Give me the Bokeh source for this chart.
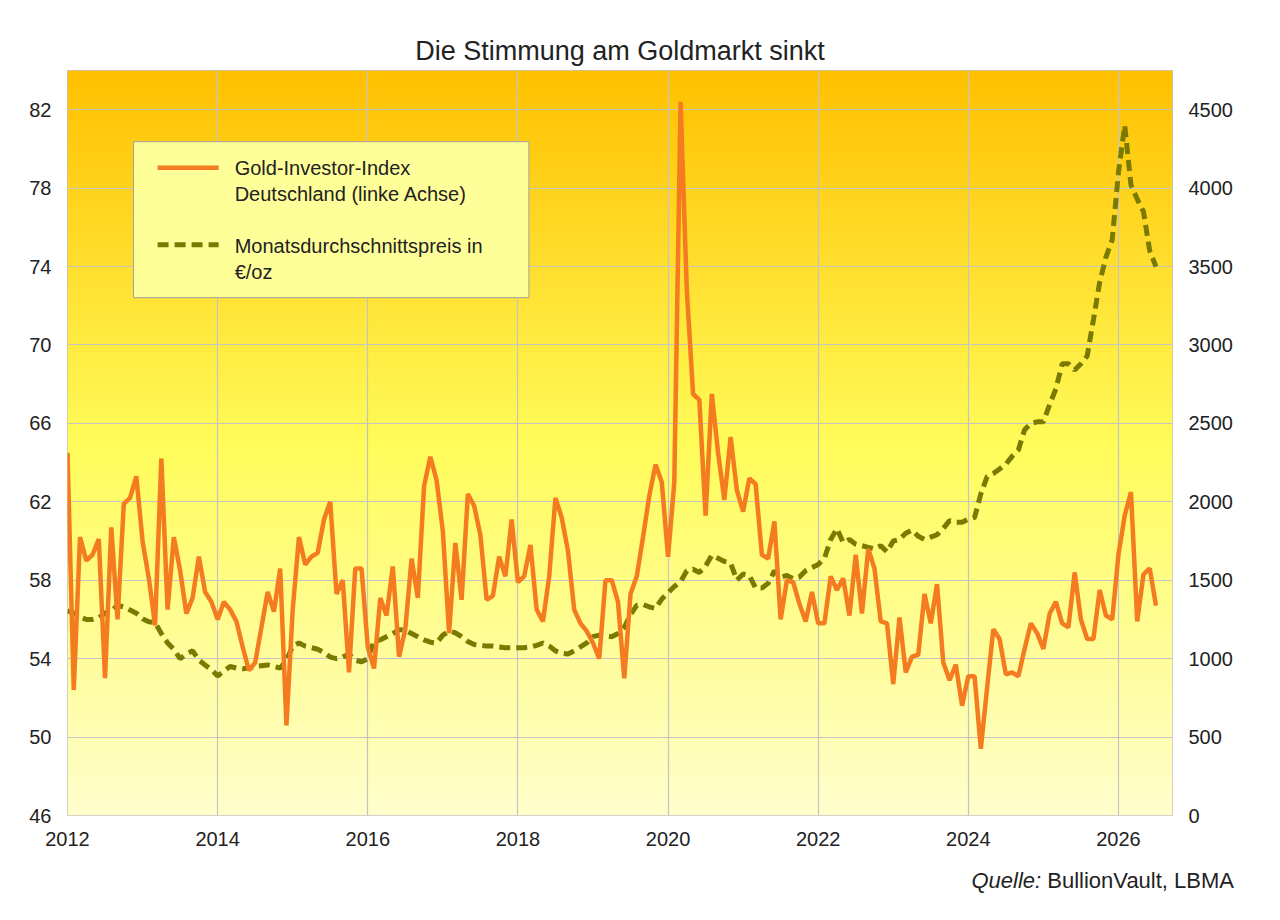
import numpy as np
from bokeh.plotting import figure
from bokeh.models import Range1d, LinearAxis, FixedTicker, Div
from bokeh.layouts import column
from bokeh.core.properties import value
from bokeh.embed import file_html
from bokeh.resources import INLINE

years = list(range(2012, 2027))
index_by_year = {
    2012: [64.5, 52.4, 60.2, 59.0, 59.3, 60.1, 53.0, 60.7, 56.0, 61.9, 62.2, 63.3],
    2013: [60.0, 58.1, 55.7, 64.2, 56.5, 60.2, 58.5, 56.3, 57.1, 59.2, 57.4, 56.9],
    2014: [56.0, 56.9, 56.5, 55.9, 54.6, 53.4, 53.8, 55.6, 57.4, 56.4, 58.6, 50.6],
    2015: [56.5, 60.2, 58.8, 59.2, 59.4, 61.1, 62.0, 57.3, 58.0, 53.3, 58.6, 58.6],
    2016: [54.6, 53.5, 57.1, 56.2, 58.7, 54.1, 55.5, 59.1, 57.1, 62.8, 64.3, 63.1],
    2017: [60.5, 55.3, 59.9, 57.0, 62.4, 61.8, 60.3, 57.0, 57.2, 59.2, 58.2, 61.1],
    2018: [57.9, 58.2, 59.8, 56.5, 55.9, 58.2, 62.2, 61.2, 59.5, 56.5, 55.8, 55.4],
    2019: [54.8, 54.0, 58.0, 58.0, 56.9, 53.0, 57.3, 58.2, 60.2, 62.3, 63.9, 63.0],
    2020: [59.2, 63.0, 82.4, 72.8, 67.5, 67.2, 61.3, 67.5, 64.5, 62.1, 65.3, 62.6],
    2021: [61.5, 63.2, 62.9, 59.3, 59.1, 61.0, 56.0, 58.0, 57.9, 56.8, 55.9, 57.4],
    2022: [55.8, 55.8, 58.2, 57.5, 58.1, 56.2, 59.3, 56.3, 59.6, 58.6, 55.9, 55.8],
    2023: [52.7, 56.1, 53.3, 54.1, 54.2, 57.3, 55.8, 57.8, 53.8, 52.9, 53.7, 51.6],
    2024: [53.1, 53.1, 49.4, 52.5, 55.5, 55.0, 53.2, 53.3, 53.1, 54.5, 55.8, 55.3],
    2025: [54.5, 56.3, 56.9, 55.8, 55.6, 58.4, 56.0, 55.0, 55.0, 57.5, 56.2, 56.0],
    2026: [59.3, 61.3, 62.5, 55.9, 58.3, 58.6, 56.7],
}
price_by_year = {
    2012: [1305, 1290, 1265, 1250, 1250, 1260, 1290, 1305, 1340, 1330, 1310, 1290],
    2013: [1255, 1235, 1230, 1160, 1100, 1060, 1000, 1030, 1050, 990, 960, 930],
    2014: [890, 920, 950, 940, 935, 940, 950, 955, 960, 950, 940, 990],
    2015: [1080, 1100, 1080, 1070, 1060, 1040, 1010, 1000, 1010, 1030, 990, 980],
    2016: [1000, 1110, 1120, 1140, 1160, 1185, 1180, 1160, 1140, 1120, 1105, 1100],
    2017: [1150, 1175, 1165, 1140, 1110, 1090, 1085, 1080, 1080, 1075, 1070, 1070],
    2018: [1070, 1070, 1075, 1085, 1100, 1080, 1050, 1035, 1030, 1050, 1075, 1100],
    2019: [1140, 1150, 1145, 1140, 1160, 1200, 1280, 1340, 1345, 1330, 1320, 1380],
    2020: [1420, 1460, 1490, 1560, 1570, 1550, 1590, 1660, 1640, 1620, 1610, 1500],
    2021: [1540, 1530, 1450, 1450, 1480, 1560, 1520, 1530, 1510, 1520, 1560, 1580],
    2022: [1600, 1640, 1760, 1830, 1740, 1760, 1730, 1720, 1710, 1700, 1720, 1680],
    2023: [1750, 1760, 1800, 1820, 1780, 1760, 1775, 1790, 1830, 1880, 1870, 1870],
    2024: [1890, 1900, 2050, 2160, 2180, 2210, 2240, 2290, 2330, 2460, 2500, 2510],
    2025: [2510, 2620, 2720, 2880, 2880, 2840, 2880, 2930, 3160, 3400, 3560, 3670],
    2026: [4100, 4400, 4020, 3930, 3850, 3600, 3500],
}
left_ticks = [46, 50, 54, 58, 62, 66, 70, 74, 78, 82]
right_ticks = [0, 500, 1000, 1500, 2000, 2500, 3000, 3500, 4000, 4500]
x_ticks = [2012, 2014, 2016, 2018, 2020, 2022, 2024, 2026]

idx, prc, xs = [], [], []
for y in years:
    for m, v in enumerate(index_by_year[y]):
        xs.append(y + m / 12.0)
        idx.append(v)
    prc.extend(price_by_year[y])

X0, X1 = 2012, 2026.72
p = figure(width=1264, height=860, output_backend="svg", toolbar_location=None,
           x_range=Range1d(X0, X1), y_range=Range1d(46, 84),
           min_border_left=67, min_border_right=92, min_border_top=70, min_border_bottom=45,
           background_fill_color="white", border_fill_color="white")
p.extra_y_ranges = {"price": Range1d(0, 4750)}

# vertical gradient background (row 0 = bottom)
n = 300
stops = [(0.0, (255, 192, 0)), (0.5, (255, 252, 90)), (1.0, (255, 255, 205))]  # from top
img = np.zeros((n, 1), dtype=np.uint32)
view = img.view(dtype=np.uint8).reshape((n, 1, 4))
for i in range(n):
    tt = 1 - i / (n - 1)  # distance from top
    for (a, ca), (b, cb) in zip(stops[:-1], stops[1:]):
        if a <= tt <= b:
            f = (tt - a) / (b - a)
            c = [int(ca[k] + (cb[k] - ca[k]) * f) for k in range(3)]
    view[i, 0, :3] = c
    view[i, 0, 3] = 255
r = p.image_rgba(image=[img], x=X0, y=46, dw=X1 - X0, dh=38)
r.level = "image"

p.xgrid.ticker = FixedTicker(ticks=x_ticks)
p.ygrid.ticker = FixedTicker(ticks=left_ticks)
for g in (p.xgrid, p.ygrid):
    g.grid_line_color = "#C4C4C4"
    g.grid_line_width = 1.2
p.outline_line_color = "#C4C4C4"

p.line(xs, prc, y_range_name="price", line_color="#7A7A00", line_width=5, line_dash="11 6")
p.line(xs, idx, line_color="#F47B20", line_width=4.5)

ax_r = LinearAxis(y_range_name="price", ticker=FixedTicker(ticks=right_ticks))
p.add_layout(ax_r, "right")
p.yaxis[0].ticker = FixedTicker(ticks=left_ticks)
p.xaxis.ticker = FixedTicker(ticks=x_ticks)
for ax in list(p.xaxis) + list(p.yaxis):
    ax.axis_line_color = None
    ax.major_tick_line_color = None
    ax.minor_tick_line_color = None
    ax.major_label_text_font = "Liberation Sans"
    ax.major_label_text_font_size = "20px"
    ax.major_label_text_color = "#222222"
    ax.major_label_standoff = 10

p.title.text = "Die Stimmung am Goldmarkt sinkt"
p.title.align = "center"
p.title.text_font = "Liberation Sans"
p.title.text_font_size = "27px"
p.title.text_font_style = "normal"
p.title.text_color = "#222222"

def px2x(px): return 2012 + (px - 67) / 75.0
def py2y(py): return 82 - (py - 109) / 19.61

p.quad(left=[px2x(133)], right=[px2x(528)], top=[py2y(141)], bottom=[py2y(297)],
       fill_color="#FFFF99", line_color="#A0A0A0", line_width=1)
p.line([px2x(157), px2x(218)], [py2y(167)] * 2, line_color="#F47B20", line_width=4.5)
p.line([px2x(157), px2x(218)], [py2y(244)] * 2, line_color="#7A7A00", line_width=5, line_dash="11 6")
leg_texts = ["Gold-Investor-Index", "Deutschland (linke Achse)", "Monatsdurchschnittspreis in", "€/oz"]
leg_py = [167, 193, 245, 271]
p.text(x=[px2x(234)] * 4, y=[py2y(v) for v in leg_py], text=leg_texts,
       text_font=value("Liberation Sans"), text_font_size="20px", text_baseline="middle",
       text_color="#222222")

src = Div(text="<i>Quelle:</i> BullionVault, LBMA", width=1264, height=40,
          styles={"font-family": "Liberation Sans", "font-size": "22px", "color": "#222222",
                  "text-align": "right", "padding-right": "35px", "box-sizing": "border-box"})

open("out.html", "w").write(file_html(column(p, src, spacing=0), INLINE))
